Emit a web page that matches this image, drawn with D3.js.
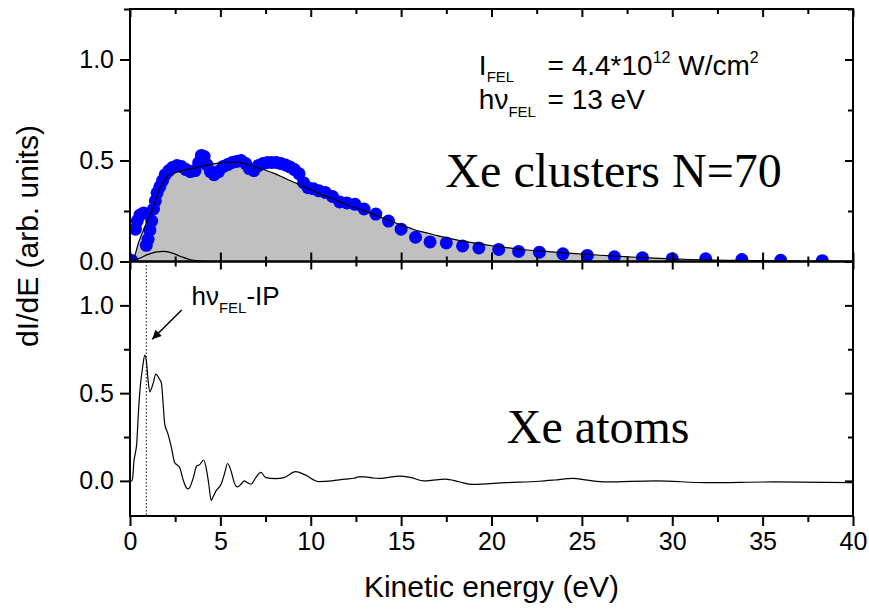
<!DOCTYPE html>
<html>
<head>
<meta charset="utf-8">
<script src="https://cdn.jsdelivr.net/npm/d3@7"></script>
<style>
  body { margin: 0; background: #fff; }
  text { font-family: "Liberation Sans", Arial, sans-serif; fill: #000; white-space: pre; }
  .serif { font-family: "Liberation Serif", "Times New Roman", serif; }
</style>
</head>
<body>
<div id="chart"></div>
<script>

// Xe clusters, measured points
var clusterE = [0.1, 0.3, 0.4, 0.55, 0.75, 0.9, 1.0, 1.1, 1.2, 1.3, 1.4, 1.5, 1.65, 1.8, 1.95, 2.15, 2.35, 2.6, 2.85, 3.1,
  3.35, 3.6, 3.8, 3.95, 4.1, 4.25, 4.45, 4.65, 4.9, 5.15, 5.4, 5.65, 5.9, 6.15, 6.4, 6.6, 6.85, 7.1, 7.35, 7.6,
  7.85, 8.1, 8.35, 8.6, 8.85, 9.1, 9.35, 9.6, 9.85, 10.15, 10.45, 10.8, 11.2, 11.6, 12.0, 12.45, 12.95, 13.6, 14.3, 15.0,
  15.8, 16.6, 17.5, 18.4, 19.3, 20.4, 21.5, 22.65, 23.95, 25.3, 26.8, 28.35, 30.0, 31.85, 33.85, 36.0, 38.3];
var clusterI = [0.005, 0.16, 0.2, 0.23, 0.24, 0.08, 0.11, 0.155, 0.2, 0.26, 0.3, 0.34, 0.37, 0.4, 0.43, 0.45, 0.465, 0.475, 0.47, 0.455,
  0.445, 0.45, 0.49, 0.525, 0.52, 0.48, 0.445, 0.43, 0.445, 0.47, 0.48, 0.49, 0.495, 0.5, 0.485, 0.46, 0.45, 0.475, 0.485, 0.49,
  0.49, 0.49, 0.485, 0.478, 0.468, 0.455, 0.435, 0.39, 0.365, 0.36, 0.35, 0.342, 0.322, 0.295, 0.29, 0.283, 0.26, 0.235, 0.2, 0.16,
  0.12, 0.097, 0.092, 0.077, 0.067, 0.06, 0.05, 0.046, 0.038, 0.03, 0.023, 0.018, 0.014, 0.013, 0.01, 0.006, 0.004];

// fitted envelope (grey area)
var fitE = [0, 0.1, 0.5, 1.0, 1.3, 1.6, 1.85, 2.1, 2.5, 3.0, 3.5, 4.0, 4.5, 5.0, 5.5, 6.0, 6.5, 7.0, 7.5, 8.0,
  8.5, 9.0, 9.5, 10, 10.5, 11, 11.5, 12, 12.5, 13, 13.5, 14, 14.5, 15, 15.5, 16, 16.5, 17, 18, 19,
  20, 21, 22, 23, 24, 25, 26, 27, 28, 29, 30, 31, 32, 33, 34, 36, 38, 40];
var fitI = [0, 0, 0.1, 0.21, 0.27, 0.35, 0.395, 0.425, 0.44, 0.452, 0.462, 0.472, 0.481, 0.488, 0.492, 0.49, 0.48, 0.465, 0.452, 0.435,
  0.415, 0.395, 0.375, 0.355, 0.335, 0.318, 0.3, 0.28, 0.265, 0.25, 0.232, 0.215, 0.198, 0.18, 0.165, 0.15, 0.14, 0.128, 0.108, 0.092,
  0.078, 0.067, 0.057, 0.05, 0.043, 0.037, 0.031, 0.026, 0.021, 0.017, 0.013, 0.01, 0.008, 0.006, 0.005, 0.003, 0.002, 0.001];

// small component near threshold
var bumpE = [0, 0.5, 1.0, 1.5, 1.85, 2.3, 2.8, 3.3, 3.8, 4.5, 5.5];
var bumpI = [0, 0.015, 0.035, 0.048, 0.05, 0.043, 0.025, 0.01, 0.003, 0, 0];

// Xe atoms spectrum
var atomE = [0, 0.09, 0.15, 0.22, 0.3, 0.37, 0.46, 0.55, 0.7, 0.82, 0.92, 1.0, 1.1, 1.2, 1.28, 1.43, 1.52, 1.61, 1.74, 1.84,
  1.92, 2.1, 2.29, 2.47, 2.62, 2.75, 2.93, 3.11, 3.2, 3.3, 3.48, 3.7, 3.85, 4.07, 4.21, 4.36, 4.49, 4.6, 4.76, 5.04,
  5.22, 5.4, 5.59, 5.77, 5.95, 6.14, 6.32, 6.5, 6.69, 6.96, 7.24, 7.51, 8.06, 8.52, 9.16, 9.7, 10.44, 11.17, 11.9, 12.4,
  12.64, 13.0, 13.4, 13.76, 14.3, 14.87, 15.5, 16.26, 16.9, 17.46, 18.2, 18.94, 20.8, 22.64, 23.5, 24.49, 25.3, 26.34, 29.1, 31.9,
  35.6, 40];
var atomI = [0, 0, 0.02, 0.115, 0.16, 0.21, 0.38, 0.516, 0.65, 0.717, 0.67, 0.574, 0.507, 0.53, 0.555, 0.608, 0.6, 0.583, 0.555, 0.43,
  0.325, 0.268, 0.191, 0.105, 0.09, 0.076, 0.01, -0.038, -0.045, -0.038, 0.01, 0.086, 0.092, 0.119, 0.076, -0.019, -0.111, -0.09, -0.057, -0.019,
  0.038, 0.099, 0.057, -0.01, -0.034, -0.019, 0, -0.01, -0.019, 0.019, 0.048, 0.019, 0.013, 0.019, 0.053, 0.034, -0.004, 0, 0.01, 0.015,
  0.023, 0.023, 0.017, 0.014, 0.02, 0.027, 0.02, 0, 0.006, 0.01, -0.005, -0.02, -0.01, -0.002, 0.005, 0.014, 0.004, -0.006, 0, -0.01,
  -0.006, -0.01];

var xMajor = [0, 5, 10, 15, 20, 25, 30, 35, 40];
var xMinor = [2.5, 7.5, 12.5, 17.5, 22.5, 27.5, 32.5, 37.5];
var yMajor = [0, 0.5, 1.0];
var yMinor = [0.25, 0.75, 1.25];
var ipEnergy = 0.9;   // hv_FEL - IP

var width = 869, height = 612;
var left = 130, right = 853, top1 = 9, mid = 261.5, bottom = 516;

var svg = d3.select('#chart').append('svg')
    .attr('width', width).attr('height', height);

var x = d3.scaleLinear().domain([0, 40]).range([left, right]);
var yTop = d3.scaleLinear().domain([0, 1.25]).range([mid, top1]);
var yBot = d3.scaleLinear().domain([-0.2, 1.25]).range([bottom, mid]);

svg.append('clipPath').attr('id', 'clipTop')
  .append('rect')
    .attr('x', left).attr('y', top1)
    .attr('width', right - left).attr('height', mid - top1);

var zip = function(a, b){
  return a.map(function(d, i){ return [d, b[i]]; });
};

////////////////////
// top panel      //
////////////////////

var gTop = svg.append('g').attr('clip-path', 'url(#clipTop)');

gTop.append('path')
  .datum(zip(fitE, fitI))
  .attr('fill', '#c0c0c0')
  .attr('d', d3.area()
    .x(function(d){ return x(d[0]); })
    .y0(yTop(0))
    .y1(function(d){ return yTop(d[1]); })
    .curve(d3.curveMonotoneX));

gTop.selectAll('circle')
  .data(zip(clusterE, clusterI))
  .enter().append('circle')
    .attr('cx', function(d){ return x(d[0]); })
    .attr('cy', function(d){ return yTop(d[1]); })
    .attr('r', 6.5)
    .attr('fill', '#0000ff');

var lineTop = d3.line()
  .x(function(d){ return x(d[0]); })
  .y(function(d){ return yTop(d[1]); })
  .curve(d3.curveMonotoneX);

gTop.append('path')
  .datum(zip(fitE, fitI))
  .attr('fill', 'none').attr('stroke', '#000').attr('stroke-width', 1.2)
  .attr('d', lineTop);

gTop.append('path')
  .datum(zip(bumpE, bumpI))
  .attr('fill', 'none').attr('stroke', '#000').attr('stroke-width', 1.2)
  .attr('d', lineTop);

////////////////////
// bottom panel   //
////////////////////

svg.append('line')
  .attr('x1', x(ipEnergy)).attr('x2', x(ipEnergy))
  .attr('y1', mid).attr('y2', bottom)
  .attr('stroke', '#000').attr('stroke-width', 1)
  .attr('stroke-dasharray', '1.5,2');

svg.append('path')
  .datum(zip(atomE, atomI))
  .attr('fill', 'none').attr('stroke', '#000').attr('stroke-width', 1.2)
  .attr('d', d3.line()
    .x(function(d){ return x(d[0]); })
    .y(function(d){ return yBot(d[1]); })
    .curve(d3.curveMonotoneX));

////////////////////
// axes           //
////////////////////

var addAxis = function(axis, tx, ty, values, size){
  var g = svg.append('g')
    .attr('transform', 'translate(' + tx + ',' + ty + ')')
    .call(axis.tickValues(values).tickSize(size).tickSizeOuter(0).tickPadding(6));
  g.select('.domain').remove();
  g.selectAll('.tick line').attr('stroke', '#000').attr('stroke-width', 2);
  g.selectAll('text').attr('font-size', 25).attr('fill', '#000')
    .style('font-family', '"Liberation Sans", Arial, sans-serif');
  return g;
};

// left axes (outward, labelled)
addAxis(d3.axisLeft(yTop).tickFormat(d3.format('.1f')), left, 0, yMajor, 10);
addAxis(d3.axisLeft(yTop).tickFormat(''), left, 0, yMinor, 6);
addAxis(d3.axisLeft(yBot).tickFormat(d3.format('.1f')), left, 0, yMajor, 10);
addAxis(d3.axisLeft(yBot).tickFormat(''), left, 0, [0.25, 0.75], 6);

// right axes (inward)
addAxis(d3.axisLeft(yTop).tickFormat(''), right, 0, yMajor, 8);
addAxis(d3.axisLeft(yTop).tickFormat(''), right, 0, yMinor, 5);
addAxis(d3.axisLeft(yBot).tickFormat(''), right, 0, yMajor, 8);
addAxis(d3.axisLeft(yBot).tickFormat(''), right, 0, [0.25, 0.75], 5);

// top edge (inward)
addAxis(d3.axisBottom(x).tickFormat(''), 0, top1, xMajor, 8);
addAxis(d3.axisBottom(x).tickFormat(''), 0, top1, xMinor, 5);

// shared middle edge, ticks inward on both panels
addAxis(d3.axisTop(x).tickFormat(''), 0, mid, xMajor, 9);
addAxis(d3.axisTop(x).tickFormat(''), 0, mid, xMinor, 5);
addAxis(d3.axisBottom(x).tickFormat(''), 0, mid, xMajor, 8);
addAxis(d3.axisBottom(x).tickFormat(''), 0, mid, xMinor, 5);

// bottom axis (outward, labelled)
addAxis(d3.axisBottom(x).tickFormat(d3.format('d')), 0, bottom, xMajor, 10);
addAxis(d3.axisBottom(x).tickFormat(''), 0, bottom, xMinor, 6);

// frames
[[top1, mid], [mid, bottom]].forEach(function(p){
  svg.append('rect')
    .attr('x', left).attr('y', p[0])
    .attr('width', right - left).attr('height', p[1] - p[0])
    .attr('fill', 'none').attr('stroke', '#000').attr('stroke-width', 2);
});

////////////////////
// labels         //
////////////////////

svg.append('text')
  .attr('x', (left + right) / 2).attr('y', 597)
  .attr('text-anchor', 'middle').attr('font-size', 30)
  .text('Kinetic energy (eV)');

svg.append('text')
  .attr('transform', 'translate(38,' + 236 + ') rotate(-90)')
  .attr('text-anchor', 'middle').attr('font-size', 30)
  .text('dI/dE (arb. units)');

// parameters
var t1 = svg.append('text').attr('x', x(19.3)).attr('y', yTop(0.925)).attr('font-size', 28);
t1.append('tspan').text('I');
t1.append('tspan').attr('font-size', 15).attr('dy', 7).text('FEL');
t1.append('tspan').attr('x', x(23.1)).attr('dy', -7).text('= 4.4*10');
t1.append('tspan').attr('font-size', 16).attr('dy', -12).text('12');
t1.append('tspan').attr('dy', 12).text(' W/cm');
t1.append('tspan').attr('font-size', 16).attr('dy', -12).text('2');

var t2 = svg.append('text').attr('x', x(19.3)).attr('y', yTop(0.755)).attr('font-size', 28);
t2.append('tspan').text('h\u03bd');
t2.append('tspan').attr('font-size', 15).attr('dy', 8).text('FEL');
t2.append('tspan').attr('x', x(23.1)).attr('dy', -8).text('= 13 eV');

svg.append('text').attr('class', 'serif')
  .attr('x', x(17.45)).attr('y', yTop(0.37))
  .attr('font-size', 48)
  .style('font-family', '"Liberation Serif", "Times New Roman", serif')
  .text('Xe clusters N=70');

svg.append('text').attr('class', 'serif')
  .attr('x', x(20.85)).attr('y', yBot(0.216))
  .attr('font-size', 48)
  .style('font-family', '"Liberation Serif", "Times New Roman", serif')
  .text('Xe atoms');

// hv - IP marker
var t3 = svg.append('text').attr('x', x(3.4)).attr('y', yBot(1.0)).attr('font-size', 26);
t3.append('tspan').text('h\u03bd');
t3.append('tspan').attr('font-size', 15).attr('dy', 8).text('FEL');
t3.append('tspan').attr('dy', -8).text('-IP');

svg.append('defs').append('marker')
    .attr('id', 'arrow')
    .attr('viewBox', '0 0 10 10')
    .attr('refX', 10).attr('refY', 5)
    .attr('markerWidth', 11).attr('markerHeight', 9)
    .attr('markerUnits', 'userSpaceOnUse')
    .attr('orient', 'auto')
  .append('path')
    .attr('d', 'M0,0 L10,5 L0,10 z')
    .attr('fill', '#000');

svg.append('line')
  .attr('x1', x(2.86)).attr('y1', yBot(0.974))
  .attr('x2', x(1.23)).attr('y2', yBot(0.807))
  .attr('stroke', '#000').attr('stroke-width', 1.5)
  .attr('marker-end', 'url(#arrow)');

</script>
</body>
</html>
